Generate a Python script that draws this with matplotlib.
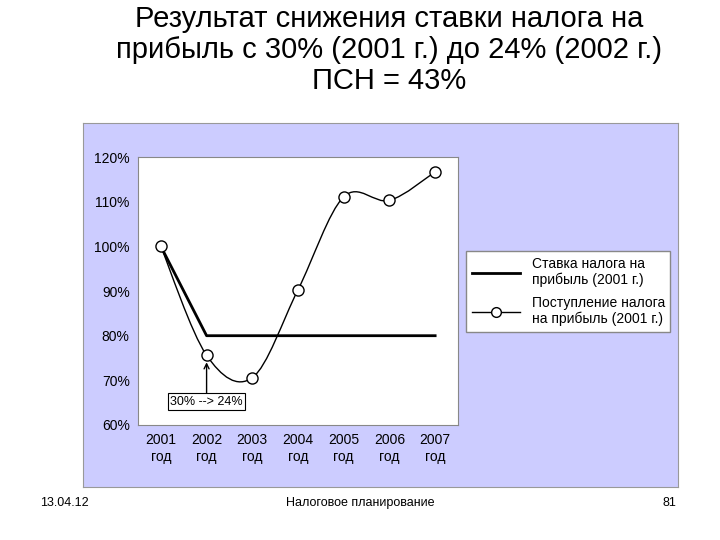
import matplotlib.pyplot as plt
from matplotlib.patches import Rectangle, PathPatch
from matplotlib.path import Path
from matplotlib.lines import Line2D

years = [2001, 2002, 2003, 2004, 2005, 2006, 2007]
year_labels = [f"{y}\nгод" for y in years]
rate = [100, 80, 80, 80, 80, 80, 80]
revenue = [100, 75.6, 70.6, 90.3, 111.1, 110.3, 116.7]

plt.rcParams['font.family'] = ['Liberation Sans', 'DejaVu Sans']

fig = plt.figure(figsize=(7.2, 5.4), dpi=100)

# lavender chart area as a background axes
bg = fig.add_axes([0.1153, 0.098, 0.826, 0.674], zorder=0)
bg.set_facecolor('#CCCCFF')
bg.set_xticks([])
bg.set_yticks([])
for s in bg.spines.values():
    s.set_color('#999999')

fig.text(0.54, 0.99, "Результат снижения ставки налога на\nприбыль с 30% (2001 г.) до 24% (2002 г.)\nПСН = 43%",
         ha='center', va='top', fontsize=21, linespacing=1.12)

ax = fig.add_axes([0.1917, 0.213, 0.4444, 0.496], zorder=2)
ax.set_xlim(2000.5, 2007.5)
ax.set_ylim(60, 120)
ax.set_yticks(range(60, 121, 10))
ax.set_yticklabels([f"{v}%" for v in range(60, 121, 10)], fontsize=10)
ax.set_xticks(years)
ax.set_xticklabels(year_labels, fontsize=10)
ax.tick_params(length=0, pad=6)
for s in ax.spines.values():
    s.set_color('#888888')

ax.plot(years, rate, color='black', lw=2)

# smooth curve through revenue points (Catmull-Rom -> cubic Bezier)
pts = list(zip(years, revenue))
verts = [pts[0]]
codes = [Path.MOVETO]
for i in range(len(pts) - 1):
    p0 = pts[i - 1] if i > 0 else pts[i]
    p1, p2 = pts[i], pts[i + 1]
    p3 = pts[i + 2] if i + 2 < len(pts) else pts[i + 1]
    c1 = (p1[0] + (p2[0] - p0[0]) / 6, p1[1] + (p2[1] - p0[1]) / 6)
    c2 = (p2[0] - (p3[0] - p1[0]) / 6, p2[1] - (p3[1] - p1[1]) / 6)
    verts += [c1, c2, p2]
    codes += [Path.CURVE4] * 3
ax.add_patch(PathPatch(Path(verts, codes), fill=False, color='black', lw=1))
ax.plot(years, revenue, 'o', color='black', mfc='white', ms=8, mew=1, zorder=3)

ax.annotate("30% --> 24%", xy=(2002, 75.6), xytext=(2002, 65.2), ha='center', va='center',
            fontsize=9, bbox=dict(boxstyle='square,pad=0.2', fc='white', ec='black', lw=0.8),
            arrowprops=dict(arrowstyle='->', color='black', lw=1, shrinkA=0, shrinkB=5))

handles = [Line2D([], [], color='black', lw=2),
           Line2D([], [], color='black', lw=1, marker='o', mfc='white', ms=7)]
leg = fig.legend(handles, ["Ставка налога на\nприбыль (2001 г.)", "Поступление налога\nна прибыль (2001 г.)"],
                 loc='upper left', bbox_to_anchor=(0.638, 0.548), fontsize=10, frameon=True,
                 fancybox=False, edgecolor='#888888', framealpha=1, handlelength=3.5, labelspacing=0.6)
leg.set_zorder(5)

fig.text(0.055, 0.068, "13.04.12", fontsize=9, va='center')
fig.text(0.5, 0.068, "Налоговое планирование", fontsize=9, ha='center', va='center')
fig.text(0.94, 0.068, "81", fontsize=9, ha='right', va='center')

fig.savefig("out.png", dpi=100)
